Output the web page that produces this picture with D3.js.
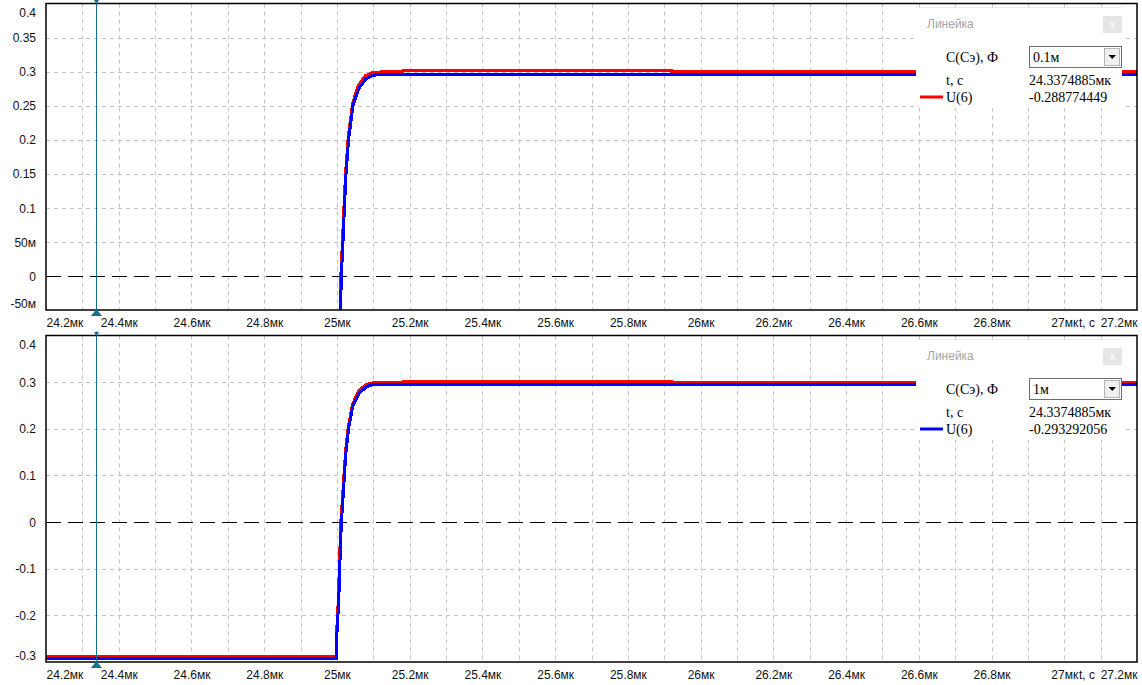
<!DOCTYPE html>
<html><head><meta charset="utf-8">
<script src="https://cdn.jsdelivr.net/npm/d3@7"></script>
<style>body{margin:0;background:#fff}svg{display:block}</style>
</head><body><svg id="c" width="1142" height="685"></svg>
<script>
// ---- data ----
const xTicks=[24.2,24.4,24.6,24.8,25.0,25.2,25.4,25.6,25.8,26.0,26.2,26.4,26.6,26.8,27.0,27.2];
const xTickLabels=["24.2мк","24.4мк","24.6мк","24.8мк","25мк","25.2мк","25.4мк","25.6мк","25.8мк","26мк","26.2мк","26.4мк","26.6мк","26.8мк","27мк","27.2мк"];
const xGrid=[24.3,24.4,24.5,24.6,24.7,24.8,24.9,25.0,25.1,25.2,25.3,25.4,25.5,25.6,25.7,25.8,25.9,26.0,26.1,26.2,26.3,26.4,26.5,26.6,26.7,26.8,26.9,27.0,27.1];
const topYTicks=[0.4,0.35,0.3,0.25,0.2,0.15,0.1,0.05,0,-0.05];
const topYLabels=["0.4","0.35","0.3","0.25","0.2","0.15","0.1","50м","0","-50м"];
const botYTicks=[0.4,0.3,0.2,0.1,0,-0.1,-0.2,-0.3];
const botYLabels=["0.4","0.3","0.2","0.1","0","-0.1","-0.2","-0.3"];
const cursorT=24.3374885;
const cursorLabel="24.3374885мк";
// series: U(6), C = 0.1м (red) and C = 1м (blue)
const tRed=[24.2,24.998,24.999,25.004,25.0075,25.011,25.0155,25.0195,25.024,25.031,25.043,25.058,25.078,25.095,25.12,25.18,25.181,25.92,25.921,27.2];
const vRed=[-0.2888,-0.2888,-0.24,-0.165,-0.075,0.003,0.053,0.103,0.153,0.203,0.253,0.279,0.294,0.298,0.2995,0.2995,0.3012,0.3012,0.2995,0.2995];
const tBlue=[24.2,24.9985,24.9995,25.0049,25.0085,25.0122,25.0166,25.0205,25.025,25.032,25.044,25.06,25.081,25.098,25.122,27.2];
const vBlue=[-0.2933,-0.2933,-0.245,-0.17,-0.08,0.0,0.05,0.1,0.15,0.2,0.25,0.275,0.29,0.2945,0.296,0.296];
const capValues=["0.1м","1м"];
const readouts=["-0.288774449","-0.293292056"];
const legendColors=["#ff0000","#0000ff"];

// ---- layout ----
const svg=d3.select("#c");
const L=46,R=1137;
const x=d3.scaleLinear().domain([24.2,27.2]).range([L,R]);
const panels=[
 {top:3.5,bottom:310,dom:[-0.05,0.4],yt:topYTicks,yl:topYLabels,oy:0},
 {top:335.5,bottom:662,dom:[-0.3,0.4],yt:botYTicks,yl:botYLabels,oy:332}
];
const redPts=tRed.map((t,i)=>[t,vRed[i]]);
const bluePts=tBlue.map((t,i)=>[t,vBlue[i]]);
const sans="'Liberation Sans', Arial, sans-serif";
const serif="'Liberation Serif', 'Times New Roman', serif";
const cursorColor="#17708c";

panels.forEach((p,pi)=>{
  const y=d3.scaleLinear().domain(p.dom).range([p.bottom,p.top]);
  const g=svg.append("g");
  const cid="clip"+pi;
  svg.append("defs").append("clipPath").attr("id",cid).append("rect")
    .attr("x",L).attr("y",p.top).attr("width",R-L).attr("height",p.bottom-p.top);
  // vertical grid
  g.append("g").selectAll("line").data(xGrid).join("line")
    .attr("x1",d=>Math.round(x(d))+0.5).attr("x2",d=>Math.round(x(d))+0.5)
    .attr("y1",p.top).attr("y2",p.bottom)
    .attr("stroke","#c2c2c2").attr("stroke-dasharray","4,4");
  // horizontal grid
  g.append("g").selectAll("line").data(p.yt.filter(d=>d!==0&&y(d)>p.top+1&&y(d)<p.bottom-1)).join("line")
    .attr("x1",L).attr("x2",R)
    .attr("y1",d=>Math.round(y(d))+0.5).attr("y2",d=>Math.round(y(d))+0.5)
    .attr("stroke","#c2c2c2").attr("stroke-dasharray","4,4");
  // zero line
  g.append("line").attr("x1",L).attr("x2",R)
    .attr("y1",Math.round(y(0))+0.5).attr("y2",Math.round(y(0))+0.5)
    .attr("stroke","#000").attr("stroke-dasharray","15,7");
  // series
  const line=d3.line().x(d=>x(d[0])).y(d=>y(d[1]));
  const sg=g.append("g").attr("clip-path","url(#"+cid+")");
  sg.append("path").attr("d",line(redPts)).attr("fill","none").attr("stroke","#ff0000").attr("stroke-width",3).attr("shape-rendering","crispEdges");
  sg.append("path").attr("d",line(bluePts)).attr("fill","none").attr("stroke","#0000ff").attr("stroke-width",3).attr("shape-rendering","crispEdges");
  // cursor
  const cx=Math.round(x(cursorT))+0.5;
  g.append("line").attr("x1",cx).attr("x2",cx).attr("y1",p.top-4).attr("y2",p.bottom)
    .attr("stroke",cursorColor).attr("stroke-width",1);
  // border
  g.append("rect").attr("x",L).attr("y",p.top).attr("width",R-L).attr("height",p.bottom-p.top)
    .attr("fill","none").attr("stroke","#000").attr("stroke-width",1.5);
  // triangles
  g.append("path").attr("d",`M${cx},${p.bottom-1}L${cx-5.5},${p.bottom+6}L${cx+5.5},${p.bottom+6}Z`).attr("fill",cursorColor);
  g.append("path").attr("d",`M${cx},${p.top+1}L${cx-2.5},${p.top-3.5}L${cx+2.5},${p.top-3.5}Z`).attr("fill",cursorColor);
  // y axis labels
  const ya=d3.axisLeft(y).tickValues(p.yt).tickFormat((d,i)=>p.yl[i]).tickSize(0).tickPadding(0);
  const yg=g.append("g").attr("transform","translate(36,0)").call(ya);
  yg.select(".domain").remove();
  yg.selectAll("text").attr("font-family",sans).attr("font-size",12).attr("fill","#111")
    .attr("dy","0.35em")
    .attr("y",d=>{const yy=y(d);const c=Math.max(p.top+8.5,Math.min(p.bottom-7,yy));return c-yy;});
  // x axis labels
  const xa=d3.axisBottom(x).tickValues(xTicks).tickFormat((d,i)=>xTickLabels[i]).tickSize(0).tickPadding(0);
  const xg=g.append("g").attr("transform",`translate(0,${p.bottom+13})`).call(xa);
  xg.select(".domain").remove();
  xg.selectAll("text").attr("font-family",sans).attr("font-size",12).attr("fill","#111")
    .attr("y",0).attr("dy","0.35em")
    .attr("text-anchor",(d,i)=>i===0?"start":(i===xTicks.length-1?"end":"middle"));
  g.append("text").attr("x",1079).attr("y",p.bottom+13).attr("dy","0.35em")
    .attr("font-family",sans).attr("font-size",12).attr("fill","#111").text("t, c");
  // legend panel ("Линейка")
  const oy=p.oy;
  const lg=g.append("g");
  lg.append("rect").attr("x",916).attr("y",7+oy).attr("width",206).attr("height",101).attr("fill","#fff");
  lg.append("line").attr("x1",916).attr("x2",1122).attr("y1",7.5+oy).attr("y2",7.5+oy).attr("stroke","#ececec");
  lg.append("text").attr("x",927).attr("y",24+oy).attr("dy","0.35em").attr("font-family",sans).attr("font-size",12).attr("fill","#a4a4a4").text("Линейка");
  lg.append("rect").attr("x",1103).attr("y",16+oy).attr("width",19).attr("height",17).attr("fill","#e6e6e6");
  lg.append("text").attr("x",1112.5).attr("y",24.5+oy).attr("dy","0.35em").attr("text-anchor","middle").attr("font-family",sans).attr("font-size",11).attr("fill","#fff").text("x");
  lg.append("text").attr("x",946).attr("y",57+oy).attr("dy","0.35em").attr("font-family",serif).attr("font-size",14).attr("fill","#000").text("C(Cэ), Ф");
  lg.append("rect").attr("x",1029.5).attr("y",46.5+oy).attr("width",92).attr("height",21).attr("fill","#fff").attr("stroke","#6e6e6e");
  lg.append("text").attr("x",1033).attr("y",57.5+oy).attr("dy","0.35em").attr("font-family",serif).attr("font-size",14).attr("fill","#000").text(capValues[pi]);
  lg.append("rect").attr("x",1104.5).attr("y",48.5+oy).attr("width",15).attr("height",17).attr("fill","#f0f0f0").attr("stroke","#b4b4b4");
  lg.append("path").attr("d",`M${1108.5},${55+oy}L${1116},${55+oy}L${1112.25},${59+oy}Z`).attr("fill","#000");
  lg.append("text").attr("x",946).attr("y",80+oy).attr("dy","0.35em").attr("font-family",serif).attr("font-size",14).attr("fill","#000").text("t, c");
  lg.append("text").attr("x",1029).attr("y",80+oy).attr("dy","0.35em").attr("font-family",serif).attr("font-size",14).attr("fill","#000").text(cursorLabel);
  lg.append("line").attr("x1",920).attr("x2",943).attr("y1",97+oy).attr("y2",97+oy).attr("stroke",legendColors[pi]).attr("stroke-width",3);
  lg.append("text").attr("x",946).attr("y",97+oy).attr("dy","0.35em").attr("font-family",serif).attr("font-size",14).attr("fill","#000").text("U(6)");
  lg.append("text").attr("x",1029).attr("y",97+oy).attr("dy","0.35em").attr("font-family",serif).attr("font-size",14).attr("fill","#000").text(readouts[pi]);
});
</script></body></html>
